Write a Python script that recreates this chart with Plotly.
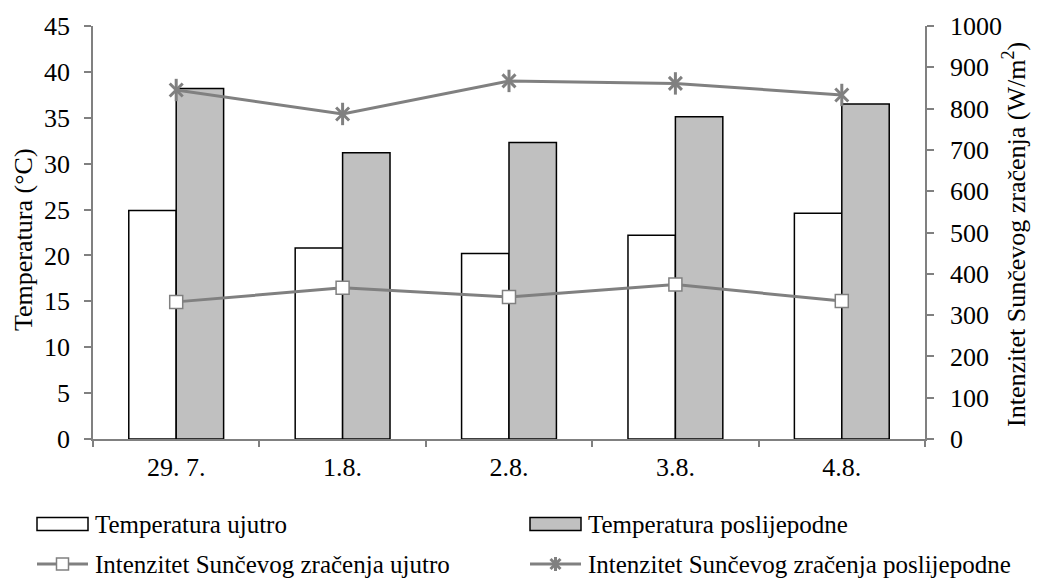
import plotly.graph_objects as go

dates = ["29. 7.", "1.8.", "2.8.", "3.8.", "4.8."]
temp_morning = [24.9, 20.8, 20.2, 22.2, 24.6]
temp_afternoon = [38.2, 31.2, 32.3, 35.1, 36.5]
rad_morning = [332, 366, 344, 374, 334]
rad_afternoon = [845, 787, 867, 861, 833]

names = ["Temperatura ujutro", "Temperatura poslijepodne",
         "Intenzitet Sunčevog zračenja ujutro",
         "Intenzitet Sunčevog zračenja poslijepodne"]
y_title = "Temperatura (°C)"
y2_title = "Intenzitet Sunčevog zračenja (W/m<sup>2</sup>)"

FONT = "Liberation Serif"
FS = 26
GRAY = "#808080"
BAR_GRAY = "#c0c0c0"

W, H = 1037, 580
L, R, T, B = 93, 112, 26, 141
PW, PH = W - L - R, H - T - B


def px(x):
    return (x - L) / PW


def py(y):
    return (H - B - y) / PH


fig = go.Figure()
fig.add_trace(go.Bar(x=dates, y=temp_morning, name=names[0],
                     marker=dict(color="white", line=dict(color="black", width=1.5))))
fig.add_trace(go.Bar(x=dates, y=temp_afternoon, name=names[1],
                     marker=dict(color=BAR_GRAY, line=dict(color="black", width=1.5))))
fig.add_trace(go.Scatter(x=dates, y=rad_morning, yaxis="y2", mode="lines+markers",
                         name=names[2], line=dict(color=GRAY, width=3),
                         marker=dict(symbol="square", size=13, color="white",
                                     line=dict(color=GRAY, width=1.5))))
fig.add_trace(go.Scatter(x=dates, y=rad_afternoon, yaxis="y2", mode="lines+markers",
                         name=names[3], line=dict(color=GRAY, width=3),
                         marker=dict(symbol="x-thin-open", size=13, color=GRAY,
                                     line=dict(color=GRAY, width=3))))
# vertical stroke completing the six-armed star marker
fig.add_trace(go.Scatter(x=dates, y=rad_afternoon, yaxis="y2", mode="markers",
                         showlegend=False, hoverinfo="skip",
                         marker=dict(symbol="line-ns-open", size=16, color=GRAY,
                                     line=dict(color=GRAY, width=3))))

# legend drawn below the plot: two columns, two rows
shapes = []
annotations = []
cols = [37, 530]
rows = [524, 564]
sym_w = 51
for i, name in enumerate(names):
    cx = cols[i % 2]
    cy = rows[i // 2]
    if i < 2:
        shapes.append(dict(type="rect", xref="paper", yref="paper",
                           x0=px(cx), x1=px(cx + sym_w), y0=py(cy - 6.5), y1=py(cy + 6.5),
                           fillcolor="white" if i == 0 else BAR_GRAY,
                           line=dict(color="black", width=1.5)))
    else:
        shapes.append(dict(type="line", xref="paper", yref="paper",
                           x0=px(cx), x1=px(cx + sym_w), y0=py(cy), y1=py(cy),
                           line=dict(color=GRAY, width=3)))
        mx = cx + sym_w / 2
        if i == 2:
            shapes.append(dict(type="rect", xref="paper", yref="paper",
                               x0=px(mx - 6), x1=px(mx + 6), y0=py(cy - 6), y1=py(cy + 6),
                               fillcolor="white", line=dict(color=GRAY, width=1.5)))
        else:
            for dx, dy in [(0, 7), (5, 5), (5, -5)]:
                shapes.append(dict(type="line", xref="paper", yref="paper",
                                   x0=px(mx - dx), x1=px(mx + dx),
                                   y0=py(cy - dy), y1=py(cy + dy),
                                   line=dict(color=GRAY, width=3)))
    annotations.append(dict(text=name, xref="paper", yref="paper",
                            x=px(cx + sym_w + 5), y=py(cy), xanchor="left", yanchor="middle",
                            showarrow=False, font=dict(family=FONT, size=25, color="black")))

# axis titles
annotations.append(dict(text=y_title, xref="paper", yref="paper", textangle=-90,
                        x=px(23), y=py(240), xanchor="center", yanchor="middle",
                        showarrow=False, font=dict(family=FONT, size=FS, color="black")))
annotations.append(dict(text=y2_title, xref="paper", yref="paper", textangle=-90,
                        x=px(1015), y=py(235), xanchor="center", yanchor="middle",
                        showarrow=False, font=dict(family=FONT, size=FS, color="black")))

fig.update_layout(
    width=W, height=H,
    margin=dict(l=L, r=R, t=T, b=B, autoexpand=False),
    paper_bgcolor="white", plot_bgcolor="white",
    font=dict(family=FONT, size=FS, color="black"),
    barmode="group", bargap=0.43, bargroupgap=0,
    showlegend=False,
    shapes=shapes, annotations=annotations,
    xaxis=dict(showline=True, linecolor=GRAY, linewidth=1.5, ticks="outside",
               tickson="boundaries", tickcolor=GRAY, ticklen=6, tickwidth=1.5,
               tickfont=dict(family=FONT, size=FS), showgrid=False,
               ticklabelstandoff=4),
    yaxis=dict(range=[0, 45], dtick=5, showline=True, linecolor=GRAY, linewidth=1.5,
               ticks="outside", tickcolor=GRAY, ticklen=7, tickwidth=1.5, showgrid=False,
               zeroline=False, tickfont=dict(family=FONT, size=FS), ticklabelstandoff=9),
    yaxis2=dict(range=[0, 1000], dtick=100, overlaying="y", side="right",
                showline=True, linecolor=GRAY, linewidth=1.5, ticks="outside",
                tickcolor=GRAY, ticklen=7, tickwidth=1.5, showgrid=False, zeroline=False,
                tickfont=dict(family=FONT, size=FS), ticklabelstandoff=11),
)

fig.write_html("out.html")
